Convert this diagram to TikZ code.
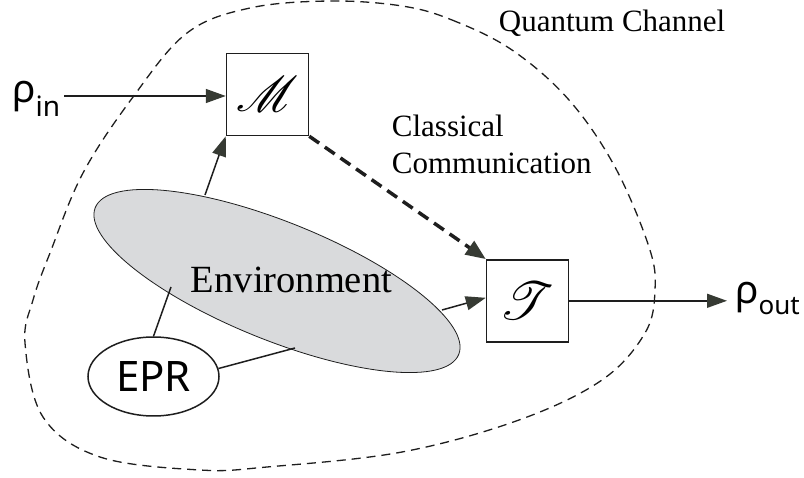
\documentclass[tikz,border=0pt]{standalone}
\usepackage{fontspec}
\setmainfont{Liberation Serif}
\newfontfamily\sansgr{Noto Sans}
\usepackage{mathrsfs}
\usepackage{graphicx}
\usetikzlibrary{arrows.meta,shapes.geometric}
\definecolor{envgray}{HTML}{D9DADC}
\definecolor{tipc}{HTML}{363A33}
\definecolor{ink}{HTML}{1E1E1E}
\begin{document}
\begin{tikzpicture}[x=1pt,y=-1pt,
  box/.style={draw=ink, line width=1.5pt, minimum width=82pt, minimum height=82pt, inner sep=0pt},
  arr/.style={draw=ink, line width=1.5pt, -{Triangle[length=20pt,width=14pt,color=tipc]}},
  plain/.style={draw=ink, line width=1.5pt},
  cldash/.style={draw=ink, line width=3.5pt, dash pattern=on 12pt off 7pt, -{Triangle[length=20pt,width=16pt,color=tipc]}},
  boundary/.style={draw=ink, line width=1.3pt, dash pattern=on 9pt off 6pt},
  serif/.style={font=\fontsize{31}{31}\selectfont, inner sep=0pt, anchor=base west},
  rho/.style={font=\sansgr\fontsize{39}{39}\selectfont, anchor=base west}
]
\useasboundingbox (0,0) rectangle (804,478);

% quantum channel boundary
\draw[boundary] plot[smooth cycle, tension=0.6] coordinates {
  (402,6) (452,20) (512,50) (569,100) (615,167) (649,247) (655,290)
  (645,333) (602,380) (519,420) (402,452) (267,467) (200,470) (100,457)
  (43,417) (25,343) (33,300) (50,253) (83,173) (133,97) (187,33) (250,8) (330,1)};

% environment
\node[draw=ink, line width=0.8pt, fill=envgray, ellipse, rotate=-22,
      minimum width=392pt, minimum height=118pt, inner sep=0pt] (env) at (277,281) {};
\node[font=\fontsize{38.5}{38.5}\selectfont, anchor=base, inner sep=0pt] (envlabel) at (291.5,293) {Environment};

\coordinate (envtop) at (205,195);
\coordinate (envright) at (442,310);
\coordinate (envleft) at (171,287);
\coordinate (envbot) at (295,348);

% boxes
\node[box] (M) at (267.5,94.5) {\resizebox{62pt}{!}{$\mathscr{M}$}};
\node[box] (T) at (527.5,300.8) {\resizebox{55pt}{!}{$\mathscr{T}$}};

% EPR
\node[draw=ink, line width=1.5pt, ellipse, minimum width=131pt, minimum height=79pt, inner sep=0pt,
      font=\sansgr\fontsize{42}{42}\selectfont] (E) at (153.5,376.5) {EPR};

% rho labels
\node[rho, inner xsep=4pt, inner ysep=0pt] (rin) at (8,103) {ρ\raisebox{-14pt}{\fontsize{28}{28}\selectfont in}};
\node[rho, inner xsep=8pt, inner ysep=0pt] (rout) at (727,304) {ρ\raisebox{-11pt}{\fontsize{26}{26}\selectfont out}};

% labels
\node[serif] (qc) at (498.7,31.7) {Quantum Channel};
\node[serif] (cl1) at (391.7,136.7) {Classical};
\node[serif] (cl2) at (391.7,173.3) {Communication};

% connectors
\draw[arr] (rin.east |- 0,96) -- (M.west |- 0,96);
\draw[arr] (envtop) -- (M.south west);
\draw[arr] (envright) -- ([yshift=3pt]T.west);
\draw[cldash] (M.south east) -- (T.north west);
\draw[arr] (T.east) -- (rout.west |- T.east);
\draw[plain] (E.north) -- (envleft);
\draw[plain] (E.7) -- (envbot);
\end{tikzpicture}
\end{document}
